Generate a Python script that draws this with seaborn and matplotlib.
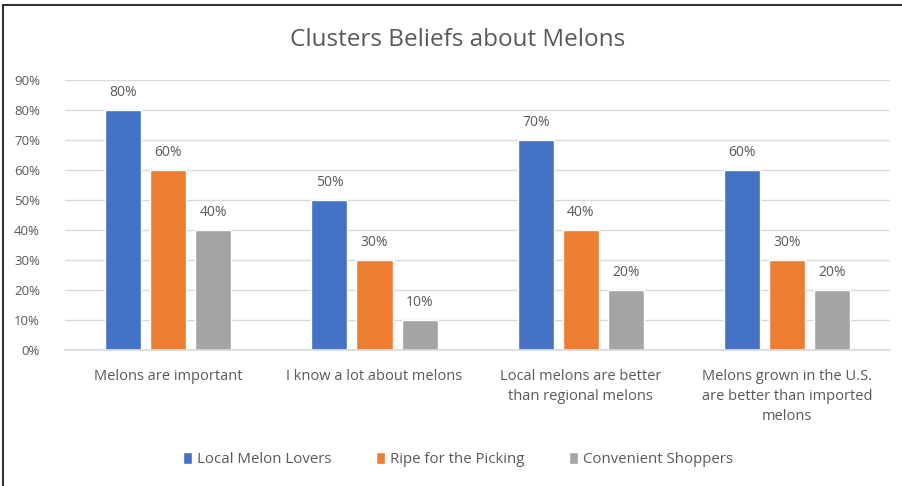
import matplotlib
matplotlib.use("Agg")
import matplotlib.pyplot as plt
import seaborn as sns
import pandas as pd
from matplotlib.patches import Rectangle

categories = ["Melons are important", "I know a lot about melons",
              "Local melons are better\nthan regional melons",
              "Melons grown in the U.S.\nare better than imported\nmelons"]
series_names = ["Local Melon Lovers", "Ripe for the Picking", "Convenient Shoppers"]
local_lovers = [0.80, 0.50, 0.70, 0.60]
ripe_picking = [0.60, 0.30, 0.40, 0.30]
convenient = [0.40, 0.10, 0.20, 0.20]
yticks = [0, 0.1, 0.2, 0.3, 0.4, 0.5, 0.6, 0.7, 0.8, 0.9]
colors = ["#4472C4", "#ED7D31", "#A5A5A5"]

rows = []
for name, vals in zip(series_names, [local_lovers, ripe_picking, convenient]):
    for c, v in zip(categories, vals):
        rows.append({"category": c, "series": name, "value": v})
df = pd.DataFrame(rows)

sns.set_theme(style="white")
plt.rcParams['font.family'] = ['Open Sans', 'DejaVu Sans']
txt = "#595959"

fig = plt.figure(figsize=(9.03, 4.86), dpi=100)
ax = fig.add_axes([0.072, 0.280, 0.914, 0.555])
sns.barplot(data=df, x="category", y="value", hue="series", order=categories,
            hue_order=series_names, palette=colors, width=0.655, gap=0.2,
            ax=ax, saturation=1, errorbar=None)

ax.set_ylim(0, 0.9)
ax.set_xlim(-0.5, 3.5)
ax.set_yticks(yticks)
ax.set_yticklabels([f"{int(round(t*100))}%" for t in yticks], color=txt, fontsize=9.5)
ax.yaxis.grid(True, color="#D9D9D9", linewidth=1)
ax.set_axisbelow(True)
ax.tick_params(axis='x', length=0, pad=14, labelsize=10.5, labelcolor=txt)
ax.tick_params(axis='y', length=0, pad=18)
for lab in ax.get_xticklabels():
    lab.set_linespacing(1.45)
for s in ["top", "right", "left"]:
    ax.spines[s].set_visible(False)
ax.spines["bottom"].set_color("#D9D9D9")
ax.set_xlabel("")
ax.set_ylabel("")

for cont in ax.containers:
    ax.bar_label(cont, labels=[f"{int(round(v*100))}%" for v in cont.datavalues],
                 padding=7, color=txt, fontsize=10)

handles, labels = ax.get_legend_handles_labels()
ax.legend_.remove()
leg = fig.legend(handles, labels, loc="center", bbox_to_anchor=(0.507, 0.055),
                 ncol=3, frameon=False, fontsize=10.8, handlelength=0.6, handleheight=0.9,
                 handletextpad=0.3, columnspacing=3.0)
for t in leg.get_texts():
    t.set_color(txt)

fig.text(0.507, 0.918, "Clusters Beliefs about Melons", ha="center", va="center",
         fontsize=17.5, color=txt)

fig.patches.append(Rectangle((3/903, -0.05), 1.2, 1 - 5/486 + 0.05, transform=fig.transFigure,
                             fill=False, edgecolor="#333333", linewidth=1.5))

fig.savefig("out.png", dpi=100)
